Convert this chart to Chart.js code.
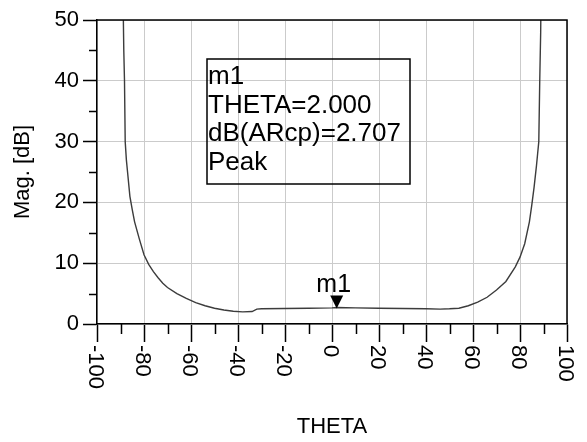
<!DOCTYPE html>
<html>
<head>
<meta charset="utf-8">
<script src="https://cdn.jsdelivr.net/npm/chart.js@4"></script>
<style>
  html, body { margin: 0; padding: 0; background: #fff; }
  canvas { display: block; }
</style>
</head>
<body>
<canvas id="c" width="587" height="442"></canvas>
<script>
// ---- data ----
const theta = [-89, -88.6, -88.3, -88, -87.5, -87, -86, -85, -84, -82, -80, -78, -76, -74, -72, -70, -66, -62, -58, -54, -50, -46, -42, -38, -34, -32, -30, -20, -10, 0, 2, 10, 20, 30, 40, 46, 50, 54, 58, 62, 66, 70, 74, 78, 80, 82, 84, 85, 86, 87, 87.5, 88, 88.4, 88.8, 89];
const magDB = [56, 45, 40, 30, 27, 25, 21, 18.8, 16.8, 14, 11.4, 9.8, 8.6, 7.6, 6.7, 6.0, 5.0, 4.2, 3.5, 3.0, 2.6, 2.3, 2.1, 2.0, 2.05, 2.45, 2.5, 2.55, 2.6, 2.65, 2.707, 2.65, 2.6, 2.55, 2.5, 2.45, 2.5, 2.6, 3.0, 3.6, 4.4, 5.6, 7.0, 9.4, 11.0, 13.2, 16.8, 19.5, 22.5, 26, 28, 30, 40, 48, 56];
const xTickLabels = ['-100', '-80', '-60', '-40', '-20', '0', '20', '40', '60', '80', '100'];
const xTickValues = [-100, -80, -60, -40, -20, 0, 20, 40, 60, 80, 100];
const xMinorValues = [-90, -70, -50, -30, -10, 10, 30, 50, 70, 90];
const yMinorValues = [5, 15, 25, 35, 45];
const markerName = 'm1';
const markerTheta = 2.000;
const markerValue = 2.707;
const markerLines = ['m1', 'THETA=2.000', 'dB(ARcp)=2.707', 'Peak'];
const xTitle = 'THETA';
const yTitle = 'Mag. [dB]';

const FONT = "'Liberation Sans', Arial, sans-serif";
const GRID = '#cbcbcb';

const decorPlugin = {
  id: 'decor',
  afterDraw(chart) {
    const ctx = chart.ctx;
    const xs = chart.scales.x, ys = chart.scales.y;
    const a = chart.chartArea;
    ctx.save();
    // frame top and right
    ctx.strokeStyle = '#000';
    ctx.lineWidth = 1.5;
    ctx.beginPath();
    ctx.moveTo(a.left, a.top);
    ctx.lineTo(a.right, a.top);
    ctx.lineTo(a.right, a.bottom);
    ctx.stroke();
    // minor ticks
    ctx.lineWidth = 1.5;
    ctx.beginPath();
    xMinorValues.forEach(v => {
      const px = Math.round(xs.getPixelForValue(v)) + 0.5;
      ctx.moveTo(px, a.bottom);
      ctx.lineTo(px, a.bottom + 10);
    });
    yMinorValues.forEach(v => {
      const py = Math.round(ys.getPixelForValue(v)) + 0.5;
      ctx.moveTo(a.left, py);
      ctx.lineTo(a.left - 8, py);
    });
    ctx.stroke();
    // rotated x tick labels (clockwise)
    const fs = 22;
    ctx.fillStyle = '#000';
    ctx.font = fs + 'px ' + FONT;
    ctx.textAlign = 'left';
    ctx.textBaseline = 'alphabetic';
    xTickValues.forEach((v, i) => {
      const px = xs.getPixelForValue(v);
      ctx.save();
      ctx.translate(px, a.bottom + 21);
      ctx.rotate(Math.PI / 2);
      ctx.fillText(xTickLabels[i], 0, fs * 0.36);
      ctx.restore();
    });
    // marker triangle + label
    const mx = xs.getPixelForValue(markerTheta);
    const my = ys.getPixelForValue(markerValue);
    ctx.beginPath();
    ctx.moveTo(mx, my + 1);
    ctx.lineTo(mx - 6.5, my - 12);
    ctx.lineTo(mx + 6.5, my - 12);
    ctx.closePath();
    ctx.fill();
    ctx.font = '25px ' + FONT;
    ctx.textAlign = 'center';
    ctx.fillText(markerName, mx - 3, my - 16);
    // marker readout box
    const bx = a.left + 110, by = a.top + 39, bw = 203, bh = 125;
    ctx.lineWidth = 1.5;
    ctx.strokeRect(bx, by, bw, bh);
    ctx.font = '26px ' + FONT;
    ctx.textAlign = 'left';
    markerLines.forEach((t, i) => {
      ctx.fillText(t, bx + 1, by + 25 + i * 28.7);
    });
    ctx.restore();
  }
};

new Chart(document.getElementById('c'), {
  type: 'scatter',
  data: {
    datasets: [{
      data: theta.map((t, i) => ({ x: t, y: magDB[i] })),
      showLine: true,
      pointRadius: 0,
      borderColor: '#3c3c3c',
      borderWidth: 1.4,
      tension: 0,
      fill: false
    }]
  },
  options: {
    responsive: false,
    devicePixelRatio: 1,
    animation: false,
    layout: { padding: { left: 0, right: 20, top: 20, bottom: 0 } },
    plugins: { legend: { display: false }, tooltip: { enabled: false } },
    scales: {
      x: {
        type: 'linear',
        min: -100, max: 100,
        afterBuildTicks(scale) { scale.ticks = xTickValues.map(v => ({ value: v })); },
        afterFit(scale) { scale.height = 118; },
        ticks: { display: false },
        grid: {
          color: GRID, lineWidth: 1,
          tickColor: '#000', tickLength: 18, tickWidth: 1.5
        },
        border: { color: '#000', width: 1.5 },
        title: {
          display: true, text: xTitle, color: '#000',
          font: { family: FONT, size: 22 },
          padding: { top: 0, bottom: 2 }
        }
      },
      y: {
        type: 'linear',
        min: 0, max: 50,
        ticks: {
          stepSize: 10, color: '#000', padding: 4,
          font: { family: FONT, size: 22 }
        },
        afterFit(scale) { scale.width = 97; },
        grid: {
          color: GRID, lineWidth: 1,
          tickColor: '#000', tickLength: 14, tickWidth: 1.5
        },
        border: { color: '#000', width: 1.5 },
        title: {
          display: true, text: yTitle, color: '#000',
          font: { family: FONT, size: 22 },
          padding: { top: 10, bottom: 0 }
        }
      }
    }
  },
  plugins: [decorPlugin]
});
</script>
</body>
</html>
